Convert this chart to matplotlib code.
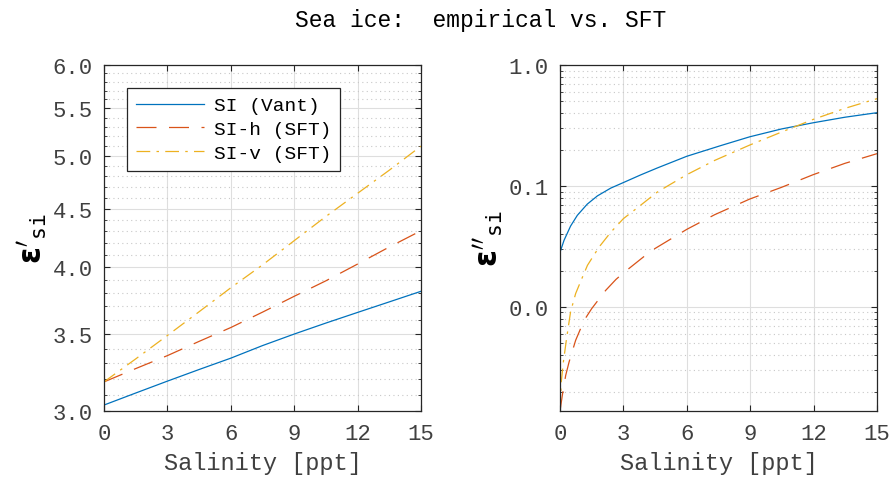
import matplotlib
matplotlib.use('Agg')
import matplotlib.pyplot as plt
import matplotlib.ticker as mticker
import numpy as np

sal_left = [0, 1.5, 3, 4.5, 6, 7.5, 9, 10.5, 12, 13.5, 15]
er_vant = [3.036, 3.11, 3.185, 3.26, 3.335, 3.42, 3.50, 3.578, 3.655, 3.733, 3.813]
er_sft_h = [3.18, 3.266, 3.352, 3.449, 3.546, 3.657, 3.775, 3.894, 4.027, 4.167, 4.305]
er_sft_v = [3.18, 3.33, 3.49, 3.66, 3.84, 4.02, 4.22, 4.43, 4.64, 4.86, 5.10]

# imaginary part (right)
sal_vant_i = [0, 0.19, 0.5, 0.82, 1.29, 1.77, 2.4, 3.03, 3.82, 4.61, 6.0, 7.62, 8.98, 10.48, 11.98, 13.48, 15]
ei_vant = [0.0283, 0.0355, 0.0466, 0.0572, 0.0708, 0.0828, 0.0960, 0.1073, 0.1235, 0.141, 0.176, 0.216,
           0.255, 0.296, 0.333, 0.370, 0.4035]

sal_v_i = [0, 0.06, 0.16, 0.31, 0.5, 0.74, 1.03, 1.3, 1.85, 2.4, 3.0, 3.67, 4.61, 6.0, 7.32, 8.98,
           10.48, 11.98, 13.48, 15]
ei_sft_v = [0.00138, 0.0024, 0.00351, 0.00547, 0.0091, 0.0129, 0.0171, 0.0221, 0.0313, 0.0414, 0.0537,
            0.0662, 0.0892, 0.124, 0.1627, 0.218, 0.279, 0.355, 0.438, 0.527]

sal_h_i = [0, 0.11, 0.27, 0.43, 0.74, 1.14, 1.5, 2.16, 2.65, 3.0, 4.3, 6.0, 7.32, 8.98, 10.48, 11.98,
           13.48, 15]
ei_sft_h = [0.00138, 0.00186, 0.00272, 0.00351, 0.0053, 0.00774, 0.00969, 0.0137, 0.0169, 0.0191, 0.029,
            0.0438, 0.0579, 0.078, 0.0974, 0.124, 0.1538, 0.185]

labels = ['SI (Vant)', 'SI-h (SFT)', 'SI-v (SFT)']
colors = ['#0072BD', '#D95319', '#EDB120']

plt.rcParams['font.family'] = ['Liberation Mono', 'DejaVu Sans Mono']
plt.rcParams['mathtext.fontset'] = 'dejavusans'
tick_col = '#404040'

fig = plt.figure(figsize=(8.89, 4.81), dpi=100)
ax1 = fig.add_axes([104 / 889, 69 / 481, 317 / 889, 346 / 481])
ax2 = fig.add_axes([560 / 889, 69 / 481, 317 / 889, 346 / 481])

lw = 0.9
ax1.plot(sal_left, er_vant, color=colors[0], lw=lw, label=labels[0])
ax1.plot(sal_left, er_sft_h, color=colors[1], lw=lw, dashes=(16, 10), label=labels[1])
ax1.plot(sal_left, er_sft_v, color=colors[2], lw=lw, dashes=(11, 5, 2, 5), label=labels[2])

ax2.plot(sal_vant_i, ei_vant, color=colors[0], lw=lw)
ax2.plot(sal_h_i, ei_sft_h, color=colors[1], lw=lw, dashes=(16, 10))
ax2.plot(sal_v_i, ei_sft_v, color=colors[2], lw=lw, dashes=(11, 5, 2, 5))

for ax in (ax1, ax2):
    ax.set_yscale('log')
    ax.set_xlim(0, 15)
    ax.set_xticks([0, 3, 6, 9, 12, 15])
    ax.xaxis.set_minor_locator(mticker.NullLocator())
    ax.tick_params(which='both', direction='in', top=True, right=True,
                   labelsize=16, labelcolor=tick_col, color='#262626')
    ax.tick_params(which='major', length=4)
    ax.tick_params(axis='y', which='major', pad=8)
    ax.tick_params(axis='x', which='major', pad=9)
    ax.tick_params(which='minor', length=2.5)
    ax.grid(True, which='major', color='#dedede', lw=0.8)
    ax.grid(True, which='minor', axis='y', color='#c8c8c8', lw=0.8, ls=(0, (1, 3)))
    ax.set_axisbelow(True)
    for s in ax.spines.values():
        s.set_color('#262626')
        s.set_linewidth(0.9)
    ax.set_xlabel('Salinity [ppt]', fontsize=17, color=tick_col, labelpad=5)

ax1.set_ylim(3.0, 6.0)
ax1.yaxis.set_major_locator(mticker.FixedLocator(np.arange(3.0, 6.01, 0.5)))
ax1.yaxis.set_major_formatter(mticker.FormatStrFormatter('%.1f'))
minor_left = [v for v in np.arange(3.0, 6.01, 0.1) if abs(v * 2 - round(v * 2)) > 1e-6]
ax1.yaxis.set_minor_locator(mticker.FixedLocator(minor_left))
ax1.yaxis.set_minor_formatter(mticker.NullFormatter())
ax1.set_ylabel(r"$\mathbf{ε}'_{\mathtt{si}}$", fontsize=22, labelpad=2)

ax2.set_ylim(0.00138, 1.0)
ax2.yaxis.set_major_locator(mticker.FixedLocator([0.01, 0.1, 1.0]))
ax2.yaxis.set_major_formatter(mticker.FormatStrFormatter('%.1f'))
ax2.yaxis.set_minor_locator(mticker.LogLocator(base=10, subs=np.arange(2, 10)))
ax2.yaxis.set_minor_formatter(mticker.NullFormatter())
ax2.set_ylabel(r"$\mathbf{ε}''_{\mathtt{si}}$", fontsize=22, labelpad=2)

leg = ax1.legend(loc='upper left', bbox_to_anchor=(0.0726, 0.9335), borderaxespad=0, fontsize=14,
                 fancybox=False, edgecolor='#262626', framealpha=1,
                 handlelength=3.5, handletextpad=0.5, borderpad=0.45, labelspacing=0.32)
leg.get_frame().set_linewidth(0.9)

fig.text(481 / 889, 1 - 20 / 481, 'Sea ice:  empirical vs. SFT', ha='center', va='center', fontsize=16.5)

fig.savefig('out.png', dpi=100)
